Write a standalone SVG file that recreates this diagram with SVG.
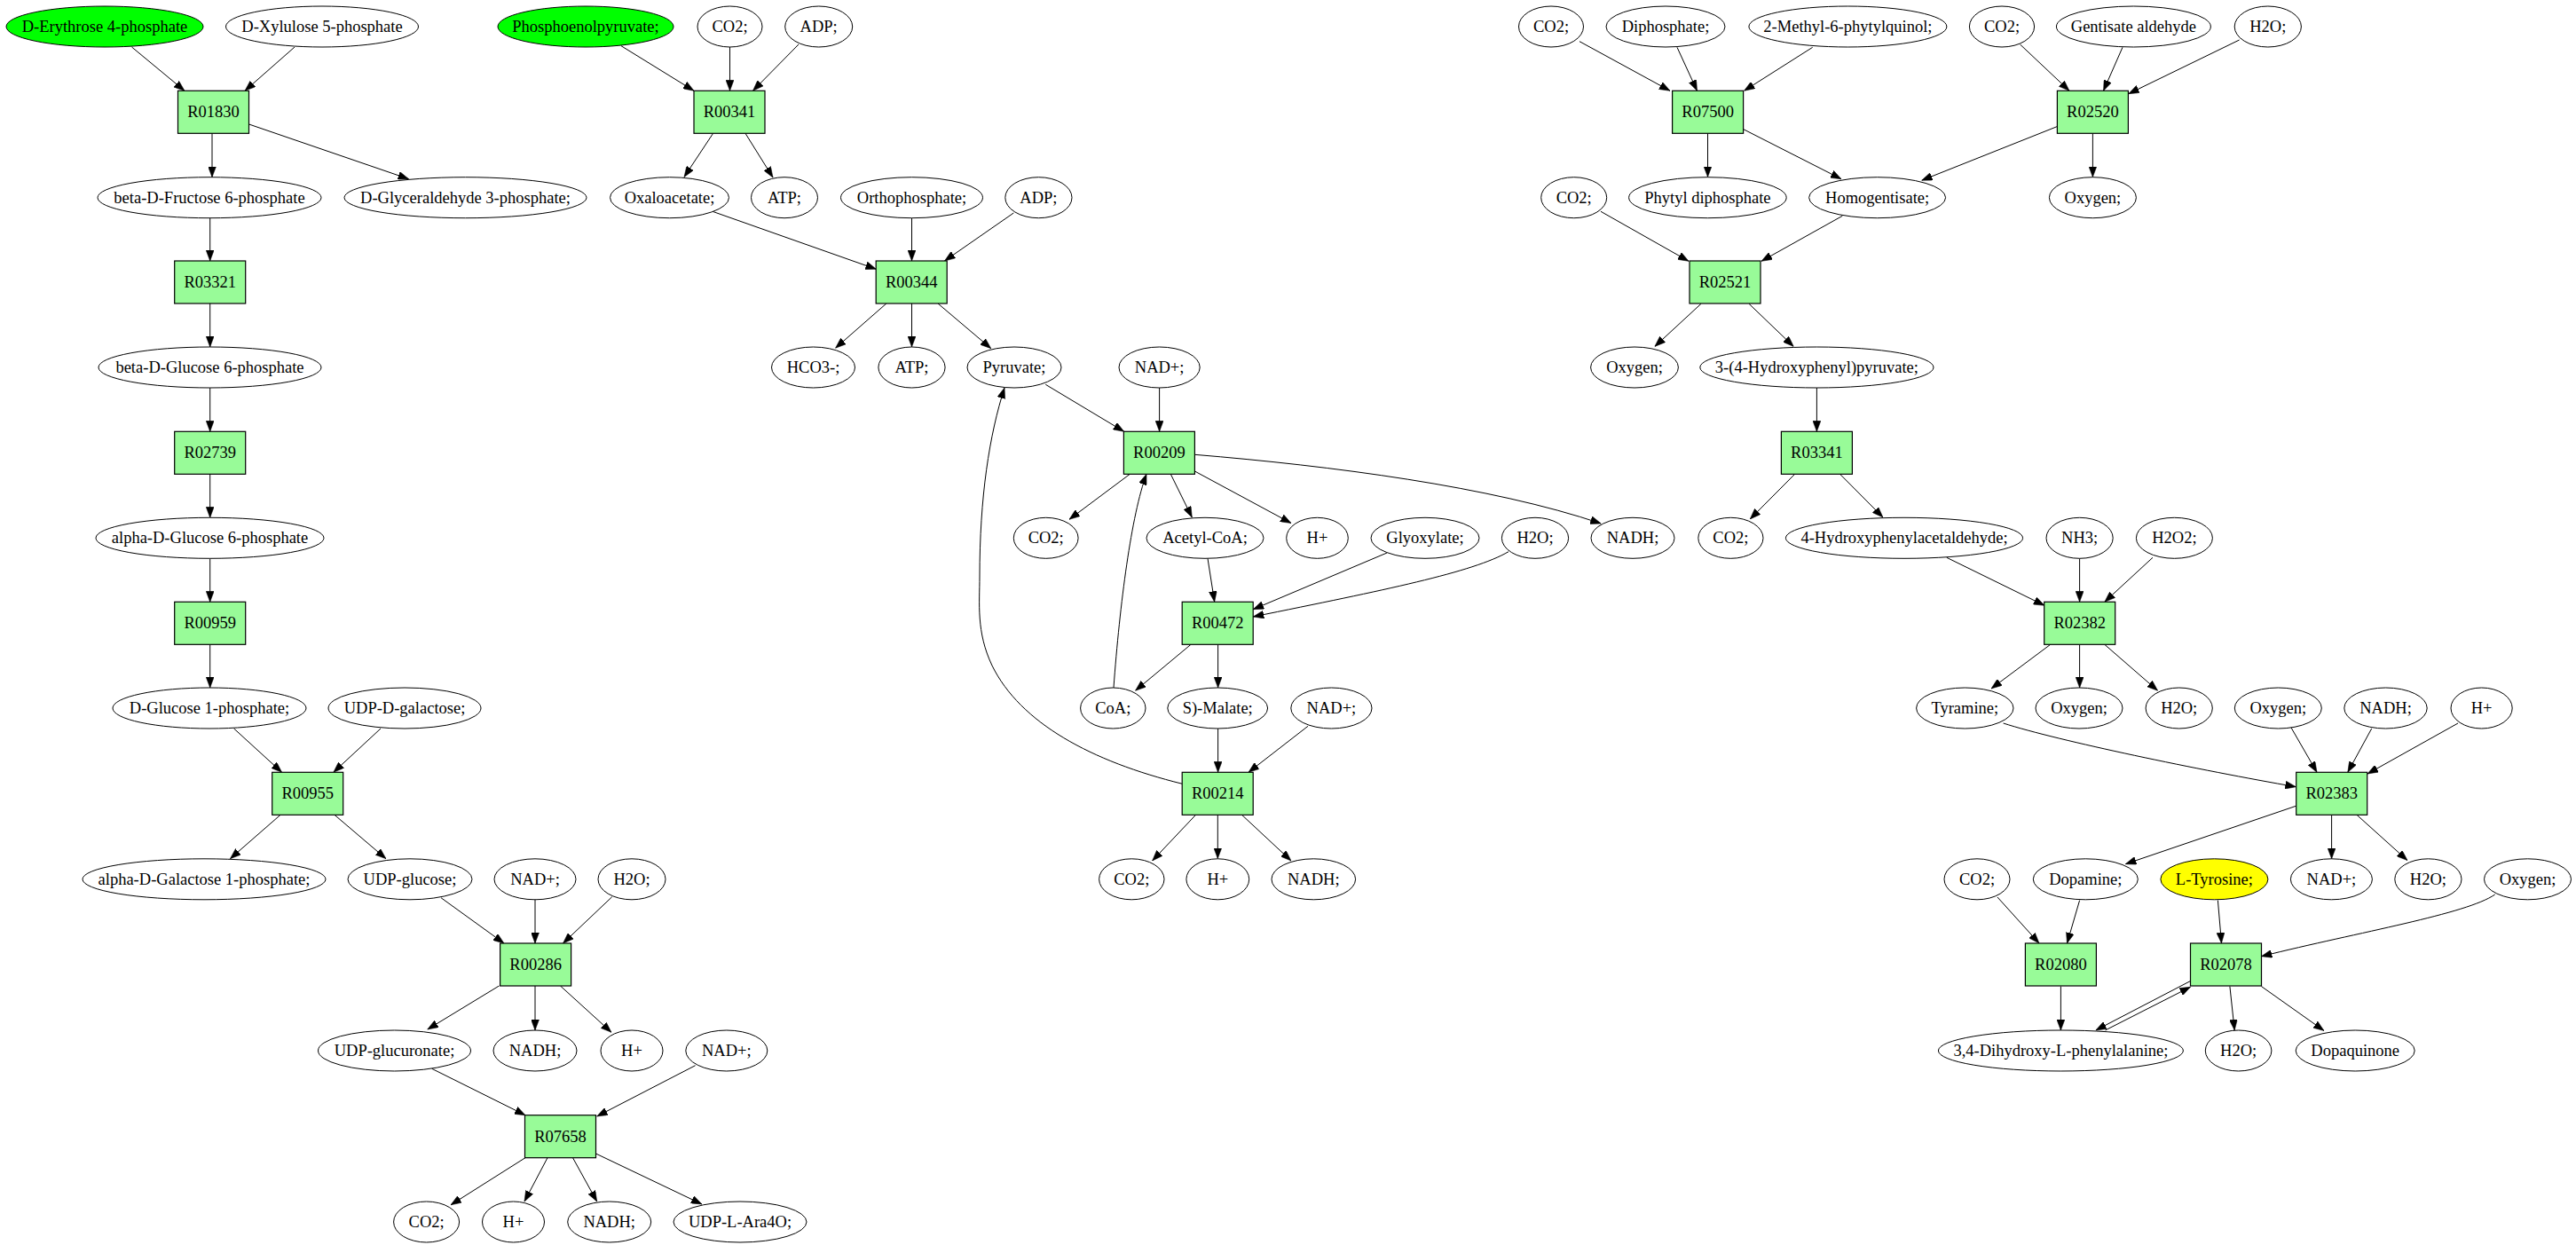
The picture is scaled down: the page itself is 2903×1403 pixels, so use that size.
<svg xmlns="http://www.w3.org/2000/svg" width="2903" height="1403" viewBox="0 0 2903 1403">
<style>
.e{fill:#ffffff;stroke:#000000;stroke-width:1}
.g{fill:#00ff00;stroke:#000000;stroke-width:1}
.y{fill:#ffff00;stroke:#000000;stroke-width:1}
.r{fill:#98fb98;stroke:#000000;stroke-width:1.2}
text{font-family:"Liberation Serif","Times New Roman",serif;font-size:18.5px;text-anchor:middle;fill:#000000}
.c path{fill:none;stroke:#000000;stroke-width:1;marker-end:url(#ah)}
</style>
<defs>
<marker id="ah" markerUnits="userSpaceOnUse" markerWidth="12" markerHeight="9" viewBox="0 0 12 9" refX="12" refY="4.5" orient="auto">
<path d="M0,0 L12,4.5 L0,9 z" fill="#000000" stroke="#000000" stroke-width="0.5"/>
</marker>
</defs>
<rect x="0" y="0" width="2903" height="1403" fill="#ffffff"/>
<g id="connectors" class="c">
<path d="M148.5,53 L208,102.3"/>
<path d="M332,53 L276,102.3"/>
<path d="M700,51.7 L782,102.3"/>
<path d="M822.5,53 L822.5,102.3"/>
<path d="M900,50 L848.5,102.3"/>
<path d="M239,150.3 L239,199.7"/>
<path d="M280.6,140 L460.6,201.7"/>
<path d="M803.6,150.3 L771,199.5"/>
<path d="M840,150.3 L871,200"/>
<path d="M236.7,245.7 L236.7,294"/>
<path d="M236.7,342 L236.7,391"/>
<path d="M803,238.3 L987.4,303.3"/>
<path d="M1027.5,245.7 L1027.5,294"/>
<path d="M1142.3,240 L1064.5,294"/>
<path d="M998.9,342 L941.5,392.3"/>
<path d="M1027.5,342 L1027.5,391"/>
<path d="M1057,342 L1116.8,392.7"/>
<path d="M236.7,437 L236.7,486.3"/>
<path d="M236.7,534.3 L236.7,583.3"/>
<path d="M236.7,629.3 L236.7,678.3"/>
<path d="M236.7,726.3 L236.7,775"/>
<path d="M263.6,821 L317.6,870.3"/>
<path d="M429,821 L375.8,870.3"/>
<path d="M316,918.3 L259.4,967.7"/>
<path d="M377,918.3 L435,967.7"/>
<path d="M497,1011.7 L568,1063"/>
<path d="M603,1013.8 L603,1063"/>
<path d="M689.7,1010.7 L634.5,1063"/>
<path d="M562.4,1111 L481.8,1160"/>
<path d="M603,1111 L603,1161"/>
<path d="M631.5,1111 L689,1163.3"/>
<path d="M486.7,1204.3 L592,1256.7"/>
<path d="M783.6,1200.7 L672.7,1258"/>
<path d="M592,1304.7 L508,1357.8"/>
<path d="M617,1304.7 L591,1354"/>
<path d="M645.5,1304.7 L672.7,1354"/>
<path d="M671.5,1300 L791,1357"/>
<path d="M1178.3,433.3 L1266.7,486.3"/>
<path d="M1306.6,437 L1306.6,486.3"/>
<path d="M1273.3,534.3 L1205,585.3"/>
<path d="M1319.3,534.3 L1343.3,583"/>
<path d="M1346.4,531 L1455,589.5"/>
<path d="M1346.4,512.3 C1500,525 1680,548 1804.3,590"/>
<path d="M1361,629.3 L1368.7,678.3"/>
<path d="M1563,623 L1412.2,686.7"/>
<path d="M1700,621.7 C1660,645 1560,665 1412.2,695"/>
<path d="M1342,726.3 L1279.5,778.3"/>
<path d="M1372.6,726.3 L1372.6,775"/>
<path d="M1255,775 C1262,680 1275,580 1292,534.3"/>
<path d="M1372.6,821 L1372.6,870.3"/>
<path d="M1474,818.3 L1407,870.3"/>
<path d="M1332.4,883.3 C1230,858 1150,815 1118,750 C1100,712 1104,680 1104,650 C1104,560 1115,490 1132,437"/>
<path d="M1347.5,918.3 L1298.6,970"/>
<path d="M1372.3,918.3 L1372.3,967.5"/>
<path d="M1399.5,918.3 L1455,970"/>
<path d="M1780,46.7 L1882,102.3"/>
<path d="M1890,53.3 L1912.5,102.3"/>
<path d="M2042.7,53.3 L1965.5,102.3"/>
<path d="M2276.5,50 L2332,102.3"/>
<path d="M2392,53.3 L2370.5,102.3"/>
<path d="M2523.6,45 L2398.7,105.7"/>
<path d="M1924.5,150.3 L1924.5,199.5"/>
<path d="M1964.8,145.7 L2075,201.7"/>
<path d="M2318,142.7 L2165.6,203.3"/>
<path d="M2358.4,150.3 L2358.4,199.5"/>
<path d="M1804,238.3 L1903,294.3"/>
<path d="M2076.3,243.3 L1985,294.3"/>
<path d="M1917,342.3 L1864.8,390.5"/>
<path d="M1971,342.3 L2021.3,390.5"/>
<path d="M2047.4,437 L2047.4,486.3"/>
<path d="M2022.6,534.3 L1972.2,585"/>
<path d="M2073.6,534.3 L2122,583"/>
<path d="M2193.8,628.3 L2304,682.3"/>
<path d="M2343.6,629.3 L2343.6,678.3"/>
<path d="M2426,628.3 L2371.8,678.3"/>
<path d="M2310.7,726.3 L2244,776"/>
<path d="M2343.6,726.3 L2343.6,775"/>
<path d="M2371.8,726.3 L2431.6,778.3"/>
<path d="M2257.6,815 C2320,835 2480,868 2587.4,886.7"/>
<path d="M2582,820 L2611,870.3"/>
<path d="M2672.7,821 L2645.8,870.3"/>
<path d="M2770,815 L2668,872"/>
<path d="M2587.4,908.3 L2395.3,973.7"/>
<path d="M2627.6,918.3 L2627.6,967.8"/>
<path d="M2656,918.3 L2713,969.6"/>
<path d="M2251,1011 L2298,1063"/>
<path d="M2343.6,1014.6 L2329.5,1063"/>
<path d="M2499.4,1014.6 L2503.5,1063"/>
<path d="M2811.7,1008 C2780,1030 2660,1050 2548.4,1077.7"/>
<path d="M2322.4,1111.5 L2322.4,1161"/>
<path d="M2468.5,1105.5 L2361.8,1161"/>
<path d="M2372.5,1161 L2468.5,1112.2"/>
<path d="M2512.9,1111.5 L2518.2,1161"/>
<path d="M2548.4,1111.5 L2619,1161.5"/>
</g>
<g id="n_e4p"><ellipse class="g" cx="118" cy="30" rx="111" ry="23"/><text x="118" y="36">D-Erythrose 4-phosphate</text></g>
<g id="n_x5p"><ellipse class="e" cx="363" cy="30" rx="108.5" ry="23"/><text x="363" y="36">D-Xylulose 5-phosphate</text></g>
<g id="n_pep"><ellipse class="g" cx="660" cy="30" rx="99" ry="23"/><text x="660" y="36">Phosphoenolpyruvate;</text></g>
<g id="n_co2_1"><ellipse class="e" cx="822.5" cy="30" rx="36.5" ry="23"/><text x="822.5" y="36">CO2;</text></g>
<g id="n_adp_1"><ellipse class="e" cx="922.7" cy="30" rx="38" ry="23"/><text x="922.7" y="36">ADP;</text></g>
<g id="n_co2_2"><ellipse class="e" cx="1748" cy="30" rx="36.5" ry="23"/><text x="1748" y="36">CO2;</text></g>
<g id="n_diph"><ellipse class="e" cx="1877" cy="30" rx="67" ry="23"/><text x="1877" y="36">Diphosphate;</text></g>
<g id="n_mpq"><ellipse class="e" cx="2082.4" cy="30" rx="111.5" ry="23"/><text x="2082.4" y="36">2-Methyl-6-phytylquinol;</text></g>
<g id="n_co2_3"><ellipse class="e" cx="2256" cy="30" rx="36.6" ry="23"/><text x="2256" y="36">CO2;</text></g>
<g id="n_gent"><ellipse class="e" cx="2404.4" cy="30" rx="87" ry="23"/><text x="2404.4" y="36">Gentisate aldehyde</text></g>
<g id="n_h2o_1"><ellipse class="e" cx="2555.8" cy="30" rx="37.6" ry="23"/><text x="2555.8" y="36">H2O;</text></g>
<g id="R01830"><rect class="r" x="200.5" y="102.3" width="80" height="48"/><text x="240.5" y="132.3">R01830</text></g>
<g id="R00341"><rect class="r" x="782" y="102.3" width="80" height="48"/><text x="822" y="132.3">R00341</text></g>
<g id="R07500"><rect class="r" x="1884.6" y="102.3" width="80" height="48"/><text x="1924.6" y="132.3">R07500</text></g>
<g id="R02520"><rect class="r" x="2318.4" y="102.3" width="80" height="48"/><text x="2358.4" y="132.3">R02520</text></g>
<g id="n_bfru6p"><ellipse class="e" cx="236" cy="222.7" rx="126" ry="23"/><text x="236" y="228.7">beta-D-Fructose 6-phosphate</text></g>
<g id="n_gap"><ellipse class="e" cx="524.5" cy="222.7" rx="136.5" ry="23"/><text x="524.5" y="228.7">D-Glyceraldehyde 3-phosphate;</text></g>
<g id="n_oaa"><ellipse class="e" cx="754.5" cy="222.7" rx="67" ry="23"/><text x="754.5" y="228.7">Oxaloacetate;</text></g>
<g id="n_atp_1"><ellipse class="e" cx="884" cy="222.7" rx="37.5" ry="23"/><text x="884" y="228.7">ATP;</text></g>
<g id="n_pi"><ellipse class="e" cx="1027.5" cy="222.7" rx="80" ry="23"/><text x="1027.5" y="228.7">Orthophosphate;</text></g>
<g id="n_adp_2"><ellipse class="e" cx="1170.4" cy="222.7" rx="37.6" ry="23"/><text x="1170.4" y="228.7">ADP;</text></g>
<g id="n_co2_4"><ellipse class="e" cx="1773.7" cy="222.7" rx="37" ry="23"/><text x="1773.7" y="228.7">CO2;</text></g>
<g id="n_phytyl"><ellipse class="e" cx="1924.4" cy="222.7" rx="88.8" ry="23"/><text x="1924.4" y="228.7">Phytyl diphosphate</text></g>
<g id="n_hgt"><ellipse class="e" cx="2115.6" cy="222.7" rx="77" ry="23"/><text x="2115.6" y="228.7">Homogentisate;</text></g>
<g id="n_oxy_1"><ellipse class="e" cx="2358.4" cy="222.7" rx="49" ry="23"/><text x="2358.4" y="228.7">Oxygen;</text></g>
<g id="R03321"><rect class="r" x="196.7" y="294" width="80" height="48"/><text x="236.7" y="324">R03321</text></g>
<g id="R00344"><rect class="r" x="987.2" y="294" width="80" height="48"/><text x="1027.2" y="324">R00344</text></g>
<g id="R02521"><rect class="r" x="1904" y="294" width="80" height="48"/><text x="1944" y="324">R02521</text></g>
<g id="n_bglc6p"><ellipse class="e" cx="236.5" cy="414" rx="125.5" ry="23"/><text x="236.5" y="420">beta-D-Glucose 6-phosphate</text></g>
<g id="n_hco3"><ellipse class="e" cx="916.5" cy="414" rx="47" ry="23"/><text x="916.5" y="420">HCO3-;</text></g>
<g id="n_atp_2"><ellipse class="e" cx="1027.5" cy="414" rx="37.6" ry="23"/><text x="1027.5" y="420">ATP;</text></g>
<g id="n_pyr"><ellipse class="e" cx="1143" cy="414" rx="53" ry="23"/><text x="1143" y="420">Pyruvate;</text></g>
<g id="n_nad_1"><ellipse class="e" cx="1306.6" cy="414" rx="45.6" ry="23"/><text x="1306.6" y="420">NAD+;</text></g>
<g id="n_oxy_2"><ellipse class="e" cx="1842" cy="414" rx="49.4" ry="23"/><text x="1842" y="420">Oxygen;</text></g>
<g id="n_hpp"><ellipse class="e" cx="2047.4" cy="414" rx="131.6" ry="23"/><text x="2047.4" y="420">3-(4-Hydroxyphenyl)pyruvate;</text></g>
<g id="R02739"><rect class="r" x="196.7" y="486.3" width="80" height="48"/><text x="236.7" y="516.3">R02739</text></g>
<g id="R00209"><rect class="r" x="1266.4" y="486.3" width="80" height="48"/><text x="1306.4" y="516.3">R00209</text></g>
<g id="R03341"><rect class="r" x="2007.4" y="486.3" width="80" height="48"/><text x="2047.4" y="516.3">R03341</text></g>
<g id="n_aglc6p"><ellipse class="e" cx="236.5" cy="606.3" rx="128.5" ry="23"/><text x="236.5" y="612.3">alpha-D-Glucose 6-phosphate</text></g>
<g id="n_co2_5"><ellipse class="e" cx="1178.7" cy="606.3" rx="36.4" ry="23"/><text x="1178.7" y="612.3">CO2;</text></g>
<g id="n_accoa"><ellipse class="e" cx="1358" cy="606.3" rx="66" ry="23"/><text x="1358" y="612.3">Acetyl-CoA;</text></g>
<g id="n_h_1"><ellipse class="e" cx="1484.5" cy="606.3" rx="34.8" ry="23"/><text x="1484.5" y="612.3">H+</text></g>
<g id="n_glyox"><ellipse class="e" cx="1606" cy="606.3" rx="61" ry="23"/><text x="1606" y="612.3">Glyoxylate;</text></g>
<g id="n_h2o_2"><ellipse class="e" cx="1730" cy="606.3" rx="37.6" ry="23"/><text x="1730" y="612.3">H2O;</text></g>
<g id="n_nadh_1"><ellipse class="e" cx="1840" cy="606.3" rx="47" ry="23"/><text x="1840" y="612.3">NADH;</text></g>
<g id="n_co2_6"><ellipse class="e" cx="1950.4" cy="606.3" rx="36.6" ry="23"/><text x="1950.4" y="612.3">CO2;</text></g>
<g id="n_hpaa"><ellipse class="e" cx="2146" cy="606.3" rx="133.6" ry="23"/><text x="2146" y="612.3">4-Hydroxyphenylacetaldehyde;</text></g>
<g id="n_nh3"><ellipse class="e" cx="2343.6" cy="606.3" rx="37.6" ry="23"/><text x="2343.6" y="612.3">NH3;</text></g>
<g id="n_h2o2"><ellipse class="e" cx="2450.4" cy="606.3" rx="43" ry="23"/><text x="2450.4" y="612.3">H2O2;</text></g>
<g id="R00959"><rect class="r" x="196.7" y="678.3" width="80" height="48"/><text x="236.7" y="708.3">R00959</text></g>
<g id="R00472"><rect class="r" x="1332.2" y="678.3" width="80" height="48"/><text x="1372.2" y="708.3">R00472</text></g>
<g id="R02382"><rect class="r" x="2303.7" y="678.3" width="80" height="48"/><text x="2343.7" y="708.3">R02382</text></g>
<g id="n_g1p"><ellipse class="e" cx="236" cy="798" rx="109" ry="23"/><text x="236" y="804">D-Glucose 1-phosphate;</text></g>
<g id="n_udpgal"><ellipse class="e" cx="456" cy="798" rx="86" ry="23"/><text x="456" y="804">UDP-D-galactose;</text></g>
<g id="n_coa"><ellipse class="e" cx="1254.3" cy="798" rx="36.7" ry="23"/><text x="1254.3" y="804">CoA;</text></g>
<g id="n_malate"><ellipse class="e" cx="1372.2" cy="798" rx="56.4" ry="23"/><text x="1372.2" y="804">S)-Malate;</text></g>
<g id="n_nad_2"><ellipse class="e" cx="1500.4" cy="798" rx="45.6" ry="23"/><text x="1500.4" y="804">NAD+;</text></g>
<g id="n_tyramine"><ellipse class="e" cx="2214.3" cy="798" rx="54.7" ry="23"/><text x="2214.3" y="804">Tyramine;</text></g>
<g id="n_oxy_3"><ellipse class="e" cx="2343" cy="798" rx="49" ry="23"/><text x="2343" y="804">Oxygen;</text></g>
<g id="n_h2o_3"><ellipse class="e" cx="2455.7" cy="798" rx="37.6" ry="23"/><text x="2455.7" y="804">H2O;</text></g>
<g id="n_oxy_4"><ellipse class="e" cx="2567.3" cy="798" rx="49" ry="23"/><text x="2567.3" y="804">Oxygen;</text></g>
<g id="n_nadh_2"><ellipse class="e" cx="2688.5" cy="798" rx="46.7" ry="23"/><text x="2688.5" y="804">NADH;</text></g>
<g id="n_h_2"><ellipse class="e" cx="2796.6" cy="798" rx="34.6" ry="23"/><text x="2796.6" y="804">H+</text></g>
<g id="R00955"><rect class="r" x="306.7" y="870.3" width="80" height="48"/><text x="346.7" y="900.3">R00955</text></g>
<g id="R00214"><rect class="r" x="1332.2" y="870.3" width="80" height="48"/><text x="1372.2" y="900.3">R00214</text></g>
<g id="R02383"><rect class="r" x="2587.7" y="870.3" width="80" height="48"/><text x="2627.7" y="900.3">R02383</text></g>
<g id="n_agal1p"><ellipse class="e" cx="230" cy="990.8" rx="137" ry="23"/><text x="230" y="996.8">alpha-D-Galactose 1-phosphate;</text></g>
<g id="n_udpglc"><ellipse class="e" cx="462" cy="990.8" rx="70" ry="23"/><text x="462" y="996.8">UDP-glucose;</text></g>
<g id="n_nad_3"><ellipse class="e" cx="603" cy="990.8" rx="46" ry="23"/><text x="603" y="996.8">NAD+;</text></g>
<g id="n_h2o_4"><ellipse class="e" cx="712" cy="990.8" rx="38" ry="23"/><text x="712" y="996.8">H2O;</text></g>
<g id="n_co2_7"><ellipse class="e" cx="1275.3" cy="990.8" rx="36.7" ry="23"/><text x="1275.3" y="996.8">CO2;</text></g>
<g id="n_h_3"><ellipse class="e" cx="1372.3" cy="990.8" rx="35.4" ry="23"/><text x="1372.3" y="996.8">H+</text></g>
<g id="n_nadh_3"><ellipse class="e" cx="1480.3" cy="990.8" rx="47.3" ry="23"/><text x="1480.3" y="996.8">NADH;</text></g>
<g id="n_co2_8"><ellipse class="e" cx="2228" cy="990.8" rx="37" ry="23"/><text x="2228" y="996.8">CO2;</text></g>
<g id="n_dopamine"><ellipse class="e" cx="2350.3" cy="990.8" rx="59" ry="23"/><text x="2350.3" y="996.8">Dopamine;</text></g>
<g id="n_ltyr"><ellipse class="y" cx="2495.4" cy="990.8" rx="60.5" ry="23"/><text x="2495.4" y="996.8">L-Tyrosine;</text></g>
<g id="n_nad_4"><ellipse class="e" cx="2627.4" cy="990.8" rx="46" ry="23"/><text x="2627.4" y="996.8">NAD+;</text></g>
<g id="n_h2o_5"><ellipse class="e" cx="2736.4" cy="990.8" rx="37.6" ry="23"/><text x="2736.4" y="996.8">H2O;</text></g>
<g id="n_oxy_5"><ellipse class="e" cx="2848.5" cy="990.8" rx="49" ry="23"/><text x="2848.5" y="996.8">Oxygen;</text></g>
<g id="R00286"><rect class="r" x="563.6" y="1063" width="80" height="48"/><text x="603.6" y="1093">R00286</text></g>
<g id="R02080"><rect class="r" x="2282.4" y="1063" width="80" height="48"/><text x="2322.4" y="1093">R02080</text></g>
<g id="R02078"><rect class="r" x="2468.5" y="1063" width="80" height="48"/><text x="2508.5" y="1093">R02078</text></g>
<g id="n_udpglca"><ellipse class="e" cx="444.5" cy="1184" rx="86" ry="23"/><text x="444.5" y="1190">UDP-glucuronate;</text></g>
<g id="n_nadh_4"><ellipse class="e" cx="603" cy="1184" rx="47" ry="23"/><text x="603" y="1190">NADH;</text></g>
<g id="n_h_4"><ellipse class="e" cx="712" cy="1184" rx="35" ry="23"/><text x="712" y="1190">H+</text></g>
<g id="n_nad_5"><ellipse class="e" cx="818.8" cy="1184" rx="46" ry="23"/><text x="818.8" y="1190">NAD+;</text></g>
<g id="n_dopa"><ellipse class="e" cx="2322.4" cy="1184" rx="138" ry="23"/><text x="2322.4" y="1190">3,4-Dihydroxy-L-phenylalanine;</text></g>
<g id="n_h2o_6"><ellipse class="e" cx="2522.6" cy="1184" rx="37.3" ry="23"/><text x="2522.6" y="1190">H2O;</text></g>
<g id="n_dopaq"><ellipse class="e" cx="2654.2" cy="1184" rx="67" ry="23"/><text x="2654.2" y="1190">Dopaquinone</text></g>
<g id="R07658"><rect class="r" x="591.5" y="1256.7" width="80" height="48"/><text x="631.5" y="1286.7">R07658</text></g>
<g id="n_co2_9"><ellipse class="e" cx="480.6" cy="1377" rx="37" ry="23"/><text x="480.6" y="1383">CO2;</text></g>
<g id="n_h_5"><ellipse class="e" cx="578.5" cy="1377" rx="35" ry="23"/><text x="578.5" y="1383">H+</text></g>
<g id="n_nadh_5"><ellipse class="e" cx="686.7" cy="1377" rx="47" ry="23"/><text x="686.7" y="1383">NADH;</text></g>
<g id="n_ara4o"><ellipse class="e" cx="834" cy="1377" rx="75" ry="23"/><text x="834" y="1383">UDP-L-Ara4O;</text></g>
</svg>
